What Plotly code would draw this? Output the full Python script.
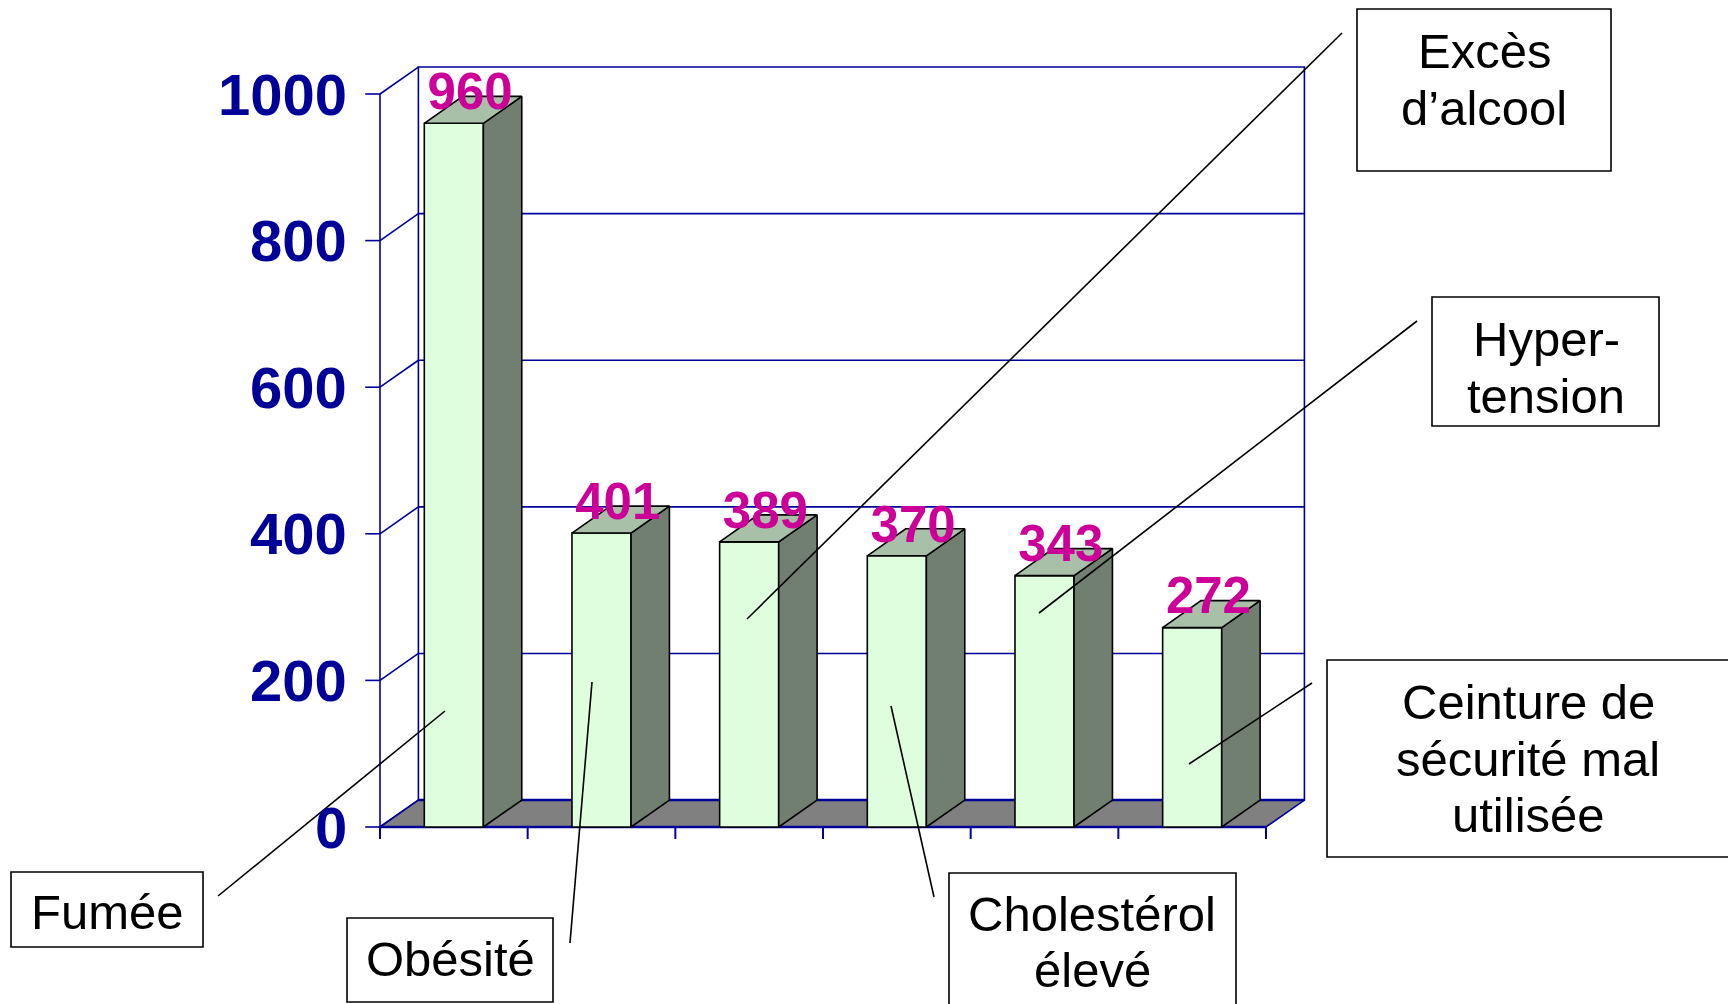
import plotly.graph_objects as go

# ---- data -------------------------------------------------------------
categories = ["Fumée", "Obésité", "Excès d’alcool", "Cholestérol élevé",
              "Hyper-tension", "Ceinture de sécurité mal utilisée"]
values = [960, 401, 389, 370, 343, 272]
tick_values = [0, 200, 400, 600, 800, 1000]
tick_labels = ["0", "200", "400", "600", "800", "1000"]

# ---- geometry of the pseudo-3D frame ---------------------------------
W, H = 1728, 1004
X0_PX, Y0_PX = 380, 827          # pixel position of (x=0, y=0)
PX_PER_CAT = 147.67
PX_PER_UNIT = 0.733
DX = 0.26                        # depth offset in category units
DY = 36.8                        # depth offset in value units
HW = 0.2                         # half width of a bar's front face
N = len(categories)
YMAX = tick_values[-1]

AXIS_BLUE = "#000099"
FRONT = "#DEFEDE"
SIDE = "#707F6F"
TOP = "#A8BFA8"
FLOOR = "#808080"
MAGENTA = "#CC0099"
FONT = "Liberation Sans, Arial, sans-serif"


def px(x, y):
    """pixel position -> paper coordinates"""
    return x / W, 1 - y / H


fig = go.Figure()


def poly(xs, ys, fill, line_color, width):
    fig.add_trace(go.Scatter(
        x=xs + [xs[0]], y=ys + [ys[0]], mode="lines", fill="toself",
        fillcolor=fill, line=dict(color=line_color, width=width),
        hoverinfo="skip", showlegend=False))


def seg(xs, ys, color=AXIS_BLUE, width=1.6):
    fig.add_trace(go.Scatter(
        x=xs, y=ys, mode="lines", line=dict(color=color, width=width),
        hoverinfo="skip", showlegend=False))


# back wall
poly([DX, N + DX, N + DX, DX], [DY, DY, YMAX + DY, YMAX + DY],
     "white", AXIS_BLUE, 1.6)
# grid lines on the back wall and their slanted ends on the left wall
for v in tick_values:
    if 0 < v < YMAX:
        seg([DX, N + DX], [v + DY, v + DY])
    seg([0, DX], [v, v + DY])
# front value axis with outward ticks
seg([0, 0], [0, YMAX])
for v in tick_values:
    seg([-0.1, 0], [v, v])
# floor
poly([0, N, N + DX, DX], [0, 0, DY, DY], FLOOR, AXIS_BLUE, 1.6)
seg([0, N], [0, 0], width=2.4)
seg([DX, N + DX], [DY, DY], width=2.4)
# category ticks under the floor
for i in range(N + 1):
    seg([i, i], [0, -16.4], width=2)

# bars
for i, v in enumerate(values):
    c = i + 0.5
    l, r = c - HW, c + HW
    poly([l, r, r, l], [0, 0, v, v], FRONT, "black", 1.6)
    poly([r, r + DX, r + DX, r], [0, DY, v + DY, v], SIDE, "black", 1.6)
    poly([l, r, r + DX, l + DX], [v, v, v + DY, v + DY], TOP, "black", 1.6)

# value labels above each bar
fig.add_trace(go.Scatter(
    x=[i + 0.5 + 0.11 for i in range(N)], y=[v + DY for v in values],
    mode="text", text=[str(v) for v in values], textposition="middle center",
    textfont=dict(family=FONT, size=51, color=MAGENTA, weight=700),
    hoverinfo="skip", showlegend=False, cliponaxis=False))

annotations = []
# value-axis tick labels
for v, t in zip(tick_values, tick_labels):
    annotations.append(dict(
        x=-0.21, y=v, xref="x", yref="y", text=t, showarrow=False,
        xanchor="right", yanchor="middle",
        font=dict(family=FONT, size=58, color=AXIS_BLUE, weight=700)))

# callout boxes: (box px left, top, right, bottom), text lines with centres,
# leader line from box side to a point on the bar
callouts = [
    (categories[0], (11, 872, 203, 947), [("Fumée", 107, 912)],
     (218, 896, 445, 711)),
    (categories[1], (347, 918, 553, 1002), [("Obésité", 450, 959)],
     (570, 943, 592, 682)),
    (categories[2], (1357, 9, 1611, 171),
     [("Excès", 1484, 51), ("d’alcool", 1484, 108)],
     (1342, 33, 747, 619)),
    (categories[3], (949, 873, 1236, 1015),
     [("Cholestérol", 1092, 914), ("élevé", 1092, 970)],
     (934, 897, 891, 706)),
    (categories[4], (1432, 297, 1659, 426),
     [("Hyper-", 1546, 339), ("tension", 1546, 396)],
     (1417, 321, 1039, 613)),
    (categories[5], (1327, 660, 1745, 857),
     [("Ceinture de", 1528, 702), ("sécurité mal", 1528, 759),
      ("utilisée", 1528, 815)],
     (1312, 683, 1189, 764)),
]

shapes = []
for name, (bl, bt, br, bb), lines, (lx0, ly0, lx1, ly1) in callouts:
    x0, y0 = px(bl, bb)
    x1, y1 = px(br, bt)
    shapes.append(dict(type="rect", xref="paper", yref="paper",
                       x0=x0, y0=y0, x1=x1, y1=y1,
                       line=dict(color="black", width=1.6),
                       fillcolor="white", layer="above"))
    a0, b0 = px(lx0, ly0)
    a1, b1 = px(lx1, ly1)
    shapes.append(dict(type="line", xref="paper", yref="paper",
                       x0=a0, y0=b0, x1=a1, y1=b1,
                       line=dict(color="black", width=1.6), layer="above"))
    for text, cx, cy in lines:
        tx, ty = px(cx, cy)
        annotations.append(dict(
            x=tx, y=ty, xref="paper", yref="paper", text=text,
            showarrow=False, xanchor="center", yanchor="middle",
            font=dict(family=FONT, size=49, color="black")))

x_lo = -X0_PX / PX_PER_CAT
x_hi = (W - X0_PX) / PX_PER_CAT
y_hi = Y0_PX / PX_PER_UNIT
y_lo = -(H - Y0_PX) / PX_PER_UNIT

fig.update_layout(
    width=W, height=H,
    margin=dict(l=0, r=0, t=0, b=0),
    paper_bgcolor="white", plot_bgcolor="white",
    xaxis=dict(range=[x_lo, x_hi], visible=False, fixedrange=True),
    yaxis=dict(range=[y_lo, y_hi], visible=False, fixedrange=True),
    shapes=shapes, annotations=annotations, showlegend=False,
)

fig.write_html("out.html")
